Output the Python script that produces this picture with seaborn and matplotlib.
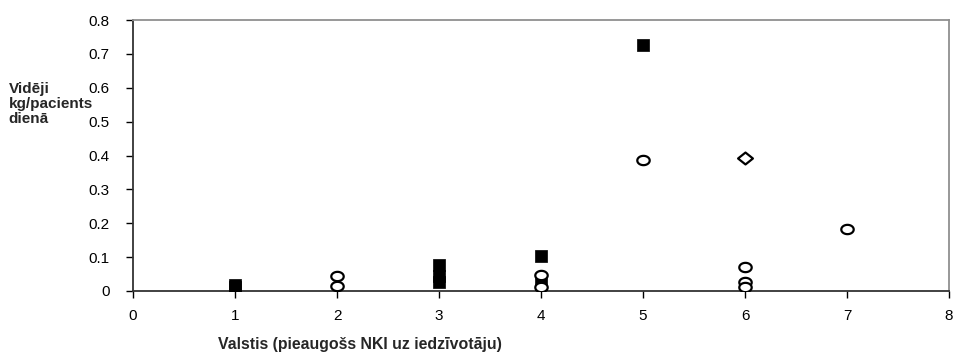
import numpy as np
import pandas as pd
import matplotlib
matplotlib.use("Agg")
import matplotlib.pyplot as plt
import seaborn as sns
from matplotlib.path import Path

# dati: trīs grupas (kvadrāti, apļi, rombs)
sq_x = [1, 1, 3, 3, 3, 4, 4, 5]
sq_y = [0.012, 0.018, 0.076, 0.044, 0.027, 0.103, 0.022, 0.726]
ci_x = [2, 2, 4, 4, 5, 6, 6, 6, 7]
ci_y = [0.044, 0.016, 0.046, 0.012, 0.386, 0.072, 0.026, 0.011, 0.183]
di_x = [6]
di_y = [0.392]

x_ticks = [0, 1, 2, 3, 4, 5, 6, 7, 8]
y_ticks = [0, 0.1, 0.2, 0.3, 0.4, 0.5, 0.6, 0.7, 0.8]
y_labels = ["0", "0.1", "0.2", "0.3", "0.4", "0.5", "0.6", "0.7", "0.8"]
y_title = ["Vidēji", "kg/pacients", "dienā"]

sns.set_style("white")
plt.rcParams["font.family"] = ["Liberation Sans", "DejaVu Sans"]

fig = plt.figure(figsize=(9.54, 3.56), dpi=100)
ax = fig.add_axes([0.1394, 0.1826, 0.8554, 0.7612])

# nedaudz saplacināts aplis un rombs kā Excel
t = np.linspace(0, 2 * np.pi, 40)
ellipse = Path(np.column_stack([np.cos(t), 0.75 * np.sin(t)]), closed=True)
diamond = Path([(0, 0.8), (1, 0), (0, -0.8), (-1, 0), (0, 0.8)], closed=True)

df_sq = pd.DataFrame({"x": sq_x, "y": sq_y})
df_ci = pd.DataFrame({"x": ci_x, "y": ci_y})
df_di = pd.DataFrame({"x": di_x, "y": di_y})

sns.scatterplot(data=df_sq, x="x", y="y", marker="s", s=68, color="black",
                edgecolor="black", linewidth=0.5, ax=ax, zorder=3)
sns.scatterplot(data=df_ci, x="x", y="y", marker=ellipse, s=80, facecolor="white",
                edgecolor="black", linewidth=1.6, ax=ax, zorder=3)
sns.scatterplot(data=df_di, x="x", y="y", marker=diamond, s=115, facecolor="white",
                edgecolor="black", linewidth=1.6, ax=ax, zorder=3)

ax.set_xlim(0, 8)
ax.set_ylim(0, 0.8)
ax.set_xticks(x_ticks)
ax.set_yticks(y_ticks)
ax.set_yticklabels(y_labels)
ax.tick_params(axis="both", labelsize=11, colors="black", length=5, width=1,
               direction="out", left=True, bottom=True)
ax.tick_params(axis="x", pad=8)
ax.tick_params(axis="y", pad=12)

for side in ["left", "bottom"]:
    ax.spines[side].set_color("#333333")
    ax.spines[side].set_linewidth(1.3)
for side in ["top", "right"]:
    ax.spines[side].set_color("#909090")
    ax.spines[side].set_linewidth(1.3)

ax.set_xlabel("")
ax.set_ylabel("")
fig.text(0.377, 0.012, "Valstis (pieaugošs NKI uz iedzīvotāju)", ha="center",
         va="bottom", fontsize=11.4, fontweight="bold")
# ass nosaukums pa rindām, lai nepārklātos ar iedaļu skaitļiem
for i, line in enumerate(y_title):
    fig.text(0.009, (356 - 93 - 15 * i) / 356, line, ha="left", va="baseline",
             fontsize=11, fontweight="bold")

fig.savefig("out.png", dpi=100)
